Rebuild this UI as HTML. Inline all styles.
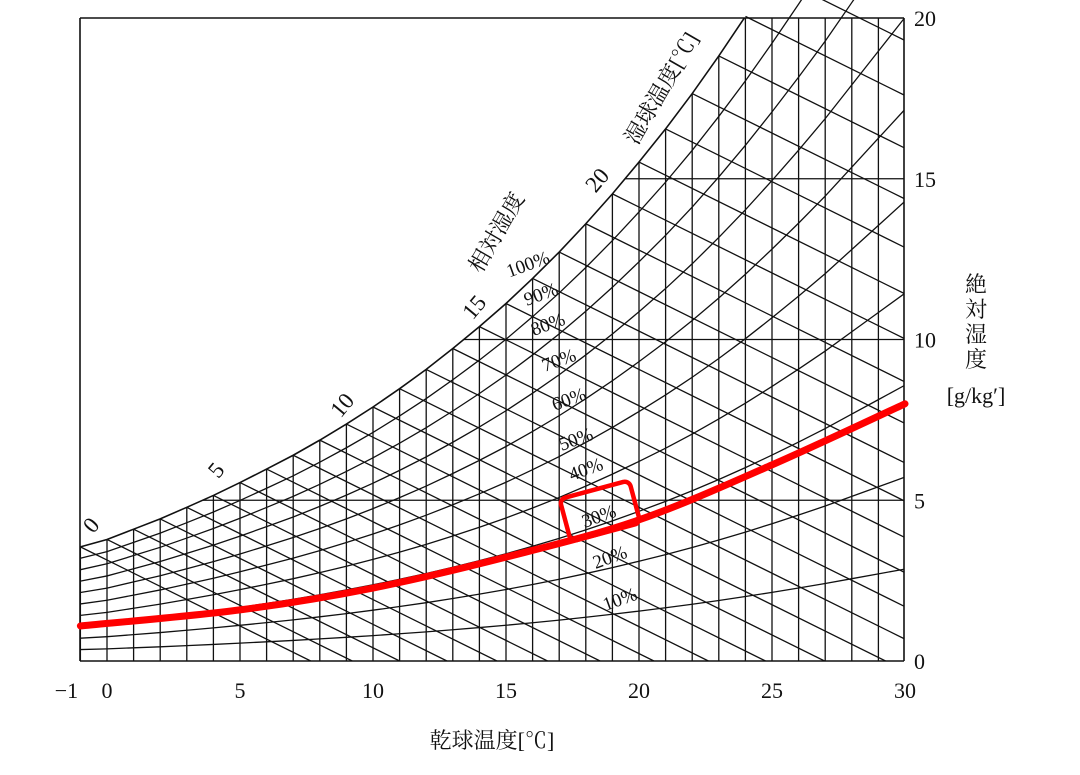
<!DOCTYPE html>
<html><head><meta charset="utf-8"><style>
body{margin:0;background:#fff;}
svg{display:block;font-family:"Liberation Serif","Noto Serif CJK SC","Noto Sans CJK JP",serif;}
</style></head><body>
<svg id="chart" width="1080" height="775" viewBox="0 0 1080 775" xmlns="http://www.w3.org/2000/svg">
<defs><clipPath id="under"><polygon id="clipPoly"/></clipPath><clipPath id="frameClip"><rect x="80" y="18" width="824" height="643"/></clipPath></defs>
<g id="grid" clip-path="url(#under)" stroke="#111" stroke-width="1.3" fill="none"></g>
<g id="frame" stroke="#111" stroke-width="1.6" fill="none">
<line x1="80" y1="18" x2="80" y2="661"/><line x1="80" y1="661" x2="904" y2="661"/><line x1="904" y1="18" x2="904" y2="661"/><line x1="80" y1="18" x2="904" y2="18"/>
</g>
<g id="labels" fill="#111"></g>
</svg>
<script>
const temps=[-1,0,1,2,3,4,5,6,7,8,9,10,11,12,13,14,15,16,17,18,19,20,21,22,23,24,25,26,27,28,29,30];
const satW=[3.55,3.78,4.10,4.42,4.78,5.15,5.55,5.97,6.40,6.87,7.37,7.90,8.47,9.07,9.72,10.40,11.12,11.90,12.72,13.60,14.53,15.52,16.55,17.65,18.82,20.05,21.35,22.7,24.1,25.6,27.1,28.6];
const rhLevels=[10,20,30,40,50,60,70,80,90];
const redT=[-1,5,10,15,20,25,30];
const redW=[1.09,1.59,2.27,3.23,4.39,6.1,8.0];
const xTicks=[-1,0,5,10,15,20,25,30];
const yTicks=[0,5,10,15,20];
const yGrid=[5,10,15];
const wbLabels=[0,5,10,15,20];
const wbSlope=-0.41;
const X=t=>107+t*26.6, Y=w=>661-w*32.15;
const NS='http://www.w3.org/2000/svg';
const svg=document.getElementById('chart'),grid=document.getElementById('grid'),labels=document.getElementById('labels');
function el(tag,attrs,parent){const e=document.createElementNS(NS,tag);for(const k in attrs)e.setAttribute(k,attrs[k]);parent.appendChild(e);return e;}
let pts=temps.map((t,i)=>X(t)+','+Y(satW[i]));
document.getElementById('clipPoly').setAttribute('points',pts.join(' ')+' 904,-200 904,661 80,661');
let sat=el('polyline',{points:pts.join(' '),fill:'none',stroke:'#111','stroke-width':1.6,'clip-path':'url(#frameClip)'},svg);


temps.forEach(t=>{let l=el('line',{x1:X(t),y1:18,x2:X(t),y2:661},grid);

});
yGrid.forEach(w=>{let l=el('line',{x1:80,y1:Y(w),x2:904,y2:Y(w)},grid);

});
temps.forEach((t,i)=>{const w0=satW[i];const t1=t+w0/(-wbSlope);
let l=el('line',{x1:X(t),y1:Y(w0),x2:X(t1),y2:Y(0)},grid);

});
rhLevels.forEach(r=>{let p=temps.map((t,i)=>X(t)+','+Y(satW[i]*r/100)).join(' ');
let l=el('polyline',{points:p},grid);

});
// red highlight, Catmull-Rom smooth
const rp=redT.map((t,i)=>[X(t),Y(redW[i])]);
let d='M'+rp[0][0]+','+rp[0][1];
for(let i=0;i<rp.length-1;i++){const p0=rp[Math.max(0,i-1)],p1=rp[i],p2=rp[i+1],p3=rp[Math.min(rp.length-1,i+2)];
d+=` C${p1[0]+(p2[0]-p0[0])/6},${p1[1]+(p2[1]-p0[1])/6} ${p2[0]-(p3[0]-p1[0])/6},${p2[1]-(p3[1]-p1[1])/6} ${p2[0]},${p2[1]}`;}
let red=el('path',{d:d,fill:'none',stroke:'#f00','stroke-width':7,'stroke-linecap':'round'},svg);


let box=el('rect',{x:-36,y:-22,width:72,height:44,rx:6,fill:'none',stroke:'#f00','stroke-width':4.5,transform:'translate(600,511) rotate(-15)'},svg);


function txt(s,x,y,size,rot,name,anchor){const t=el('text',{x:x,y:y,'font-size':size,'text-anchor':anchor||'middle',transform:rot?`rotate(${rot} ${x} ${y})`:''},labels);t.textContent=s;

return t;}
xTicks.forEach(t=>txt(t<0?'−'+(-t):String(t),X(t)+(t<0?-14:0),698,22,0,'x-tick-label'));
yTicks.forEach(w=>txt(String(w),914,Y(w)+8,22,0,'y-tick-label','start'));
const wbPos=[[97,530],[222,475],[348,410],[480,312],[603,185]];
wbLabels.forEach((v,i)=>txt(String(v),wbPos[i][0],wbPos[i][1],23,-50,'wet-bulb-label'));
const rhPos=[[622,605],[612,563],[601,522],[588,475],[578,445],[571,405],[561,366],[550,330],[543,300],[530,270]];
rhLevels.concat([100]).forEach((r,i)=>txt(r+'%',rhPos[i][0],rhPos[i][1],19,-20,'rh-label-'+r));
txt('相対湿度',503,236,22,-60,'rh-axis-title');
txt('湿球温度[℃]',668,92,22,-60,'wet-bulb-axis-title');
['絶','対','湿','度'].forEach((c,i)=>txt(c,976,292+i*25,22,0,'y-axis-title'));
txt('[g/kg′]',976,403,22,0,'y-axis-unit');
txt('乾球温度[℃]',492,748,22,0,'x-axis-title');
</script>
</body></html>
